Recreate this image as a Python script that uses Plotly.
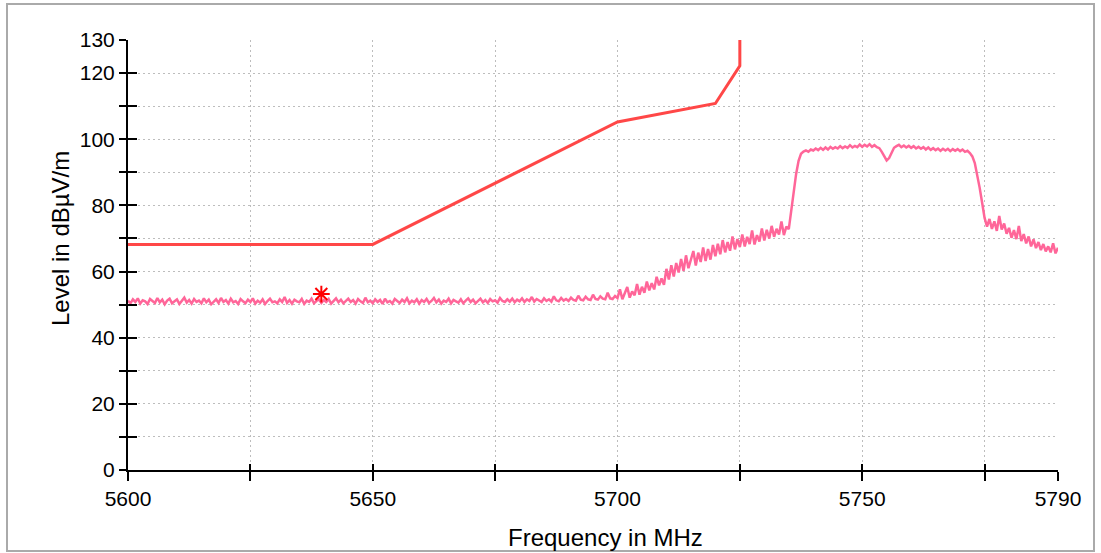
import numpy as np
import plotly.graph_objects as go

# ---------------- data ----------------
# Limit line (frequency MHz, level dBuV/m)
limit_freq = [5600, 5650, 5700, 5720, 5725, 5725]
limit_level = [68.2, 68.2, 105.2, 110.8, 122.2, 130.0]

# Measured spectrum: sweep from 5600 MHz in 0.5 MHz steps
sweep_start = 5600.0
sweep_step = 0.5
level_dbuv = [
    # 5600-5609.5
    51.2, 50.4, 51.6, 50.8, 51.9, 50.3, 51.3, 51.0, 50.2, 51.7, 51.1, 50.5, 52.0, 50.7, 51.5, 50.1, 51.2, 51.8, 50.4, 51.0,
    # 5610-5619.5
    51.6, 50.2, 51.1, 52.1, 50.6, 51.4, 50.3, 51.7, 50.8, 51.2, 50.4, 51.9, 50.7, 51.5, 50.1, 51.0, 51.6, 50.5, 52.0, 50.8,
    # 5620-5629.5
    51.4, 50.3, 51.8, 50.7, 51.1, 50.2, 51.7, 51.0, 50.4, 51.5, 50.8, 51.9, 50.3, 51.2, 50.6, 51.6, 50.2, 51.1, 51.8, 50.7,
    # 5630-5639.5
    51.0, 50.4, 51.6, 50.8, 52.3, 50.5, 51.4, 50.3, 51.5, 51.0, 50.7, 51.7, 50.2, 51.2, 50.8, 51.8, 50.4, 51.1, 51.6, 50.5,
    # 5640-5649.5
    51.4, 50.8, 51.7, 50.3, 51.2, 51.9, 50.7, 51.5, 50.4, 51.1, 51.8, 50.8, 51.4, 50.3, 51.7, 51.0, 50.5, 52.1, 50.7, 51.2,
    # 5650-5659.5
    50.4, 51.6, 50.8, 51.4, 50.2, 51.8, 50.7, 51.1, 50.3, 51.7, 51.0, 50.5, 51.5, 50.8, 51.9, 50.4, 51.2, 50.7, 51.6, 50.3,
    # 5660-5669.5
    51.4, 50.8, 51.7, 50.5, 51.1, 52.0, 50.7, 51.5, 50.3, 51.2, 50.8, 51.8, 50.4, 51.4, 51.0, 50.6, 51.6, 50.4, 51.2, 51.9,
    # 5670-5679.5
    50.8, 51.5, 50.4, 51.1, 51.8, 50.7, 51.4, 50.5, 51.7, 51.0, 51.3, 50.6, 52.0, 51.1, 50.8, 51.6, 50.9, 51.8, 50.7, 51.5,
    # 5680-5689.5
    51.0, 51.9, 50.8, 51.6, 51.1, 52.3, 50.9, 51.7, 51.2, 50.8, 51.9, 51.1, 51.6, 50.9, 52.5, 51.3, 51.0, 52.0, 51.2, 51.7,
    # 5690-5699.5
    51.1, 52.1, 51.4, 51.2, 52.7, 51.5, 51.3, 52.4, 51.6, 51.4, 53.0, 51.7, 51.5, 52.5, 51.8, 51.6, 53.6, 51.9, 51.7, 52.6,
    # 5700-5709.5
    52.0, 54.6, 51.6, 53.2, 55.3, 52.1, 54.0, 52.8, 56.2, 53.0, 55.4, 53.6, 57.0, 54.3, 56.5, 54.6, 58.4, 55.8, 57.9, 56.0,
    # 5710-5719.5
    60.8, 57.6, 61.9, 58.5, 62.6, 59.7, 63.8, 60.2, 64.9, 61.0, 63.5, 66.2, 61.8, 65.7, 62.9, 67.3, 63.2, 66.8, 63.6, 68.0,
    # 5720-5729.5
    64.6, 68.4, 65.2, 69.5, 65.8, 68.9, 66.3, 70.6, 66.7, 69.8, 67.4, 71.2, 67.6, 70.5, 68.3, 72.4, 68.2, 71.0, 69.1, 73.0,
    # 5730-5734.5
    69.4, 72.6, 70.0, 73.8, 70.5, 72.9, 71.2, 75.1, 71.0, 73.6,
    # 5735-5739.5
    72.8, 79.0, 84.5, 89.5, 93.5, 95.6, 96.3, 96.6, 96.2, 96.9,
    # 5740-5749.5
    96.6, 97.2, 96.7, 97.4, 96.8, 97.5, 96.9, 97.7, 97.1, 97.6, 97.2, 97.9, 97.3, 97.8, 97.4, 98.2, 97.5, 98.0, 97.6, 98.4,
    # 5750-5759.5
    97.7, 98.3, 97.8, 98.5, 97.7, 98.2, 97.6, 97.3, 96.2, 94.8, 93.6, 94.3, 96.0, 97.4, 97.9, 98.3, 97.6, 98.1, 97.5, 98.0,
    # 5760-5769.5
    97.4, 97.9, 97.2, 97.7, 97.1, 97.6, 96.9, 97.5, 96.8, 97.3, 96.7, 97.2, 96.5, 97.1, 96.6, 97.1, 96.4, 97.0, 96.5, 97.0,
    # 5770-5779.5
    96.4, 96.9, 96.2, 96.5, 95.8, 94.8, 92.8, 89.5, 85.3, 80.8, 76.2, 73.6, 75.9, 72.9, 75.2, 72.3, 76.8, 72.7, 74.5, 71.4,
    # 5780-5790
    73.2, 70.2, 72.5, 69.8, 73.8, 69.2, 71.3, 68.5, 70.6, 67.6, 69.7, 67.1, 68.9, 66.5, 68.3, 66.1, 67.6, 65.8, 68.5, 65.5,
    67.2,
]

# Peak marker
marker_freq = [5639.5]
marker_level = [53.2]

# Axis ticks and titles
x_tickvals = [5600, 5625, 5650, 5675, 5700, 5725, 5750, 5775, 5790]
x_ticktext = ["5600", "", "5650", "", "5700", "", "5750", "", "5790"]
y_tickvals = [0, 10, 20, 30, 40, 50, 60, 70, 80, 90, 100, 110, 120, 130]
y_ticktext = ["0", "", "20", "", "40", "", "60", "", "80", "", "100", "", "120", "130"]
x_title = "Frequency in MHz"
y_title = "Level in dBµV/m"

# ---------------- figure ----------------
sweep_freq = sweep_start + sweep_step * np.arange(len(level_dbuv))

PINK = "#FF6699"
LIMIT_RED = "#FF4747"
FONT = "Liberation Sans, Arial, sans-serif"

fig = go.Figure()
fig.add_trace(go.Scatter(x=limit_freq, y=limit_level, mode="lines",
                         line=dict(color=LIMIT_RED, width=3), hoverinfo="skip"))
fig.add_trace(go.Scatter(x=sweep_freq, y=level_dbuv, mode="lines",
                         line=dict(color=PINK, width=2.5), hoverinfo="skip"))
fig.add_trace(go.Scatter(x=marker_freq, y=marker_level, mode="markers",
                         marker=dict(symbol="asterisk-open", size=14, color="#FF0000",
                                     line=dict(color="#FF0000", width=2)),
                         hoverinfo="skip"))

xr = [5600, 5790]
yr = [0, 130]
grid = dict(showgrid=True, gridcolor="#BDBDBD", gridwidth=1, griddash="2px,3px")

fig.update_layout(
    width=1101, height=553,
    margin=dict(l=128, r=43, t=40, b=83, autoexpand=False),
    paper_bgcolor="white", plot_bgcolor="white",
    showlegend=False,
    font=dict(family=FONT, size=20, color="black"),
    xaxis=dict(range=xr, tickvals=x_tickvals, ticktext=x_ticktext,
               ticks="outside", ticklen=9, tickwidth=2, tickcolor="black",
               showline=True, linecolor="black", linewidth=2, zeroline=False,
               automargin=False, tickfont=dict(size=21), **grid),
    yaxis=dict(range=yr, tickvals=y_tickvals, ticktext=y_ticktext,
               ticks="outside", ticklen=7, tickwidth=2, tickcolor="black",
               showline=True, linecolor="black", linewidth=2, zeroline=False,
               automargin=False, tickfont=dict(size=21), **grid),
    xaxis2=dict(range=xr, overlaying="x", anchor="y", side="bottom",
                tickvals=x_tickvals, ticks="inside", ticklen=6, tickwidth=2,
                tickcolor="black", showticklabels=False, showgrid=False,
                zeroline=False, showline=False, automargin=False),
    yaxis2=dict(range=yr, overlaying="y", anchor="x", side="left",
                tickvals=y_tickvals, ticks="inside", ticklen=9, tickwidth=2,
                tickcolor="black", showticklabels=False, showgrid=False,
                zeroline=False, showline=False, automargin=False),
    shapes=[dict(type="rect", xref="paper", yref="paper",
                 x0=(7 - 128) / 930, x1=(1094 - 128) / 930,
                 y0=(470 - 551) / 430, y1=(470 - 4) / 430,
                 line=dict(color="#AAAAAA", width=2), fillcolor="rgba(0,0,0,0)",
                 layer="below")],
    annotations=[
        dict(text=x_title, xref="paper", yref="paper",
             x=(605 - 128) / 930, y=(470 - 537) / 430,
             xanchor="center", yanchor="middle", showarrow=False,
             font=dict(size=24)),
        dict(text=y_title, xref="paper", yref="paper", textangle=-90,
             x=(60 - 128) / 930, y=(470 - 239) / 430,
             xanchor="center", yanchor="middle", showarrow=False,
             font=dict(size=24)),
    ],
)

# invisible trace so the overlay (crossing-tick) axes are drawn
fig.add_trace(go.Scatter(x=[5600], y=[0], xaxis="x2", yaxis="y2", mode="markers",
                         marker=dict(opacity=0), hoverinfo="skip"))

fig.write_html("out.html", config={"displayModeBar": False},
               post_script="document.body.style.margin='0px';document.body.style.overflow='hidden';")
